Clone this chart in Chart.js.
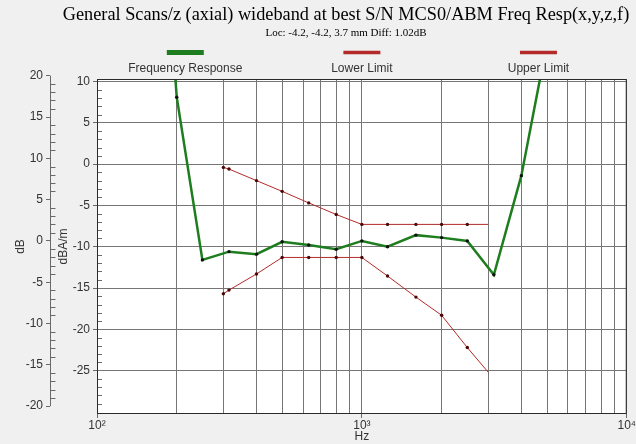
<!DOCTYPE html>
<html>
<head>
<meta charset="utf-8">
<script src="https://cdn.jsdelivr.net/npm/chart.js@4.4.1/dist/chart.umd.min.js"></script>
<style>
  html, body { margin: 0; padding: 0; background: #f0f0f0; }
  #wrap { width: 636px; height: 444px; }
</style>
</head>
<body>
<div id="wrap"><canvas id="chart" width="636" height="444"></canvas></div>
<script>
// values in dB (normalised at 1 kHz)
const freqs = [160, 200, 250, 315, 400, 500, 630, 800, 1000, 1250, 1600, 2000, 2500, 3150, 4000, 5000];
const response = [60, 17.4, -2.3, -1.3, -1.6, -0.1, -0.5, -1.0, 0.0, -0.7, 0.7, 0.4, 0.0, -4.1, 7.9, 24];
const limitFreqs = [300, 315, 400, 500, 630, 800, 1000, 1250, 1600, 2000, 2500, 3000];
const lowerLimit = [-6.4, -5.95, -4.0, -2.0, -2.0, -2.0, -2.0, -4.25, -6.8, -9.0, -12.9, -15.9];
const upperLimit = [8.9, 8.7, 7.3, 6.0, 4.6, 3.2, 2.0, 2.0, 2.0, 2.0, 2.0, 2.0];

const xGrid = [100, 200, 300, 400, 500, 600, 700, 800, 900, 1000, 2000, 3000, 4000, 5000, 6000, 7000, 8000, 9000, 10000];
const xDecades = [100, 1000, 10000];
const xDecadeLabels = ['10²', '10³', '10⁴'];
const dbTicks = [20, 15, 10, 5, 0, -5, -10, -15, -20];
const dbamTicks = [10, 5, 0, -5, -10, -15, -20, -25];

const titleText = 'General Scans/z (axial) wideband at best S/N MCS0/ABM Freq Resp(x,y,z,f)';
const subtitleText = 'Loc: -4.2, -4.2, 3.7 mm Diff: 1.02dB';

const gridColor = '#767676';
const axisColor = '#6a6a6a';
const labelColor = '#333333';
const sans = "'Liberation Sans', Arial, sans-serif";
const serif = "'Liberation Serif', 'Times New Roman', serif";

const toPoints = (xs, ys) => xs.map((x, i) => ({ x, y: ys[i] }));
const lastNoDot = n => ctx => ctx.dataIndex === n - 1 ? 0 : 1.7;

const frame = {
  id: 'frame',
  beforeDraw(chart) {
    const { ctx, chartArea: a } = chart;
    ctx.save();
    ctx.fillStyle = '#ffffff';
    ctx.fillRect(a.left, a.top, a.right - a.left, a.bottom - a.top);
    ctx.restore();
  },
  afterDraw(chart) {
    const { ctx, chartArea: a, scales } = chart;
    ctx.save();
    // title and subtitle
    ctx.fillStyle = '#000';
    ctx.textAlign = 'center';
    ctx.textBaseline = 'alphabetic';
    ctx.font = '18.3px ' + serif;
    ctx.fillText(titleText, 346, 20);
    ctx.font = '11px ' + serif;
    ctx.fillText(subtitleText, 346, 36);

    // legend: bar above text, one item per third of the plot
    const w = (a.right - a.left) / 3;
    chart.data.datasets.forEach((ds, i) => {
      const cx = a.left + w * (i + 0.5);
      const h = ds.borderWidth > 2 ? 5 : 3.5;
      ctx.fillStyle = ds.borderColor;
      ctx.fillRect(cx - 18.5, 52.5 - h / 2, 37, h);
      ctx.fillStyle = labelColor;
      ctx.font = '12px ' + sans;
      ctx.fillText(ds.label, cx, 71.5);
    });

    // minor ticks pointing inwards
    const yo = scales.y, yi = scales.y2;
    ctx.strokeStyle = axisColor;
    ctx.lineWidth = 1;
    ctx.beginPath();
    for (let v = -30; v <= 10; v++) {
      if (v % 5 === 0) continue;
      const y = Math.round(yi.getPixelForValue(v)) + 0.5;
      ctx.moveTo(a.left, y); ctx.lineTo(a.left + 5, y);
    }
    const xo = Math.round(yo.right) + 0.5;
    for (let v = -20; v <= 20; v++) {
      if (v % 5 === 0) continue;
      const y = Math.round(yo.getPixelForValue(v)) + 0.5;
      ctx.moveTo(xo, y); ctx.lineTo(xo + 5, y);
    }
    ctx.moveTo(xo, yo.getPixelForValue(20)); ctx.lineTo(xo, yo.getPixelForValue(-20));
    ctx.stroke();

    // plot border
    ctx.strokeStyle = '#2a2a2a';
    ctx.strokeRect(a.left + 0.5, a.top + 0.5, a.right - a.left - 1, a.bottom - a.top - 1);
    ctx.restore();
  }
};

new Chart(document.getElementById('chart'), {
  type: 'line',
  data: {
    datasets: [
      {
        label: 'Frequency Response',
        data: toPoints(freqs, response),
        borderColor: '#1e7d1e',
        borderWidth: 2.5,
        pointRadius: 1.7,
        pointBackgroundColor: '#101010',
        pointBorderWidth: 0,
        yAxisID: 'y'
      },
      {
        label: 'Lower Limit',
        data: toPoints(limitFreqs, lowerLimit),
        borderColor: '#b42a2a',
        borderWidth: 1,
        pointRadius: lastNoDot(limitFreqs.length),
        pointBackgroundColor: '#4a0606',
        pointBorderWidth: 0,
        yAxisID: 'y'
      },
      {
        label: 'Upper Limit',
        data: toPoints(limitFreqs, upperLimit),
        borderColor: '#b42a2a',
        borderWidth: 1,
        pointRadius: lastNoDot(limitFreqs.length),
        pointBackgroundColor: '#4a0606',
        pointBorderWidth: 0,
        yAxisID: 'y'
      }
    ]
  },
  options: {
    responsive: false,
    devicePixelRatio: 1,
    animation: false,
    events: [],
    layout: { padding: { top: 79, right: 9, left: 0, bottom: 0 } },
    plugins: { legend: { display: false }, tooltip: { enabled: false }, title: { display: false } },
    scales: {
      x: {
        type: 'logarithmic',
        min: 100,
        max: 10000,
        afterBuildTicks: s => { s.ticks = xGrid.map(v => ({ value: v })); },
        afterFit: s => { s.height = 30; },
        grid: {
          color: gridColor,
          tickLength: 4,
          tickColor: c => xDecades.includes(c.tick && c.tick.value) ? axisColor : 'rgba(0,0,0,0)'
        },
        border: { display: false },
        ticks: {
          autoSkip: false,
          maxRotation: 0,
          padding: 0,
          color: labelColor,
          font: { family: sans, size: 12 },
          callback: v => { const i = xDecades.indexOf(v); return i >= 0 ? xDecadeLabels[i] : ''; }
        },
        title: { display: true, text: 'Hz', color: labelColor, font: { family: sans, size: 12 }, padding: { top: 0, bottom: 0 } }
      },
      y: {
        position: 'left',
        weight: 10,
        min: -20.95,
        max: 19.6,
        afterBuildTicks: s => { s.ticks = dbTicks.map(v => ({ value: v })); },
        afterFit: s => { s.width = 50; },
        grid: { drawOnChartArea: false, tickLength: 4, tickColor: axisColor },
        border: { display: false },
        ticks: { autoSkip: false, padding: 3, color: labelColor, font: { family: sans, size: 12 } },
        title: { display: true, text: 'dB', color: labelColor, font: { family: sans, size: 12 }, padding: { top: 13, bottom: 0 } }
      },
      y2: {
        position: 'left',
        weight: 0,
        min: -30.25,
        max: 10.3,
        afterBuildTicks: s => { s.ticks = dbamTicks.map(v => ({ value: v })); },
        afterFit: s => { s.width = 47; },
        grid: { color: gridColor, tickLength: 4, tickColor: axisColor },
        border: { display: true, color: axisColor },
        ticks: { autoSkip: false, padding: 3, color: labelColor, font: { family: sans, size: 12 } },
        title: { display: true, text: 'dBA/m', color: labelColor, font: { family: sans, size: 12 }, padding: { top: 6, bottom: 0 } }
      }
    }
  },
  plugins: [frame]
});
</script>
</body>
</html>
